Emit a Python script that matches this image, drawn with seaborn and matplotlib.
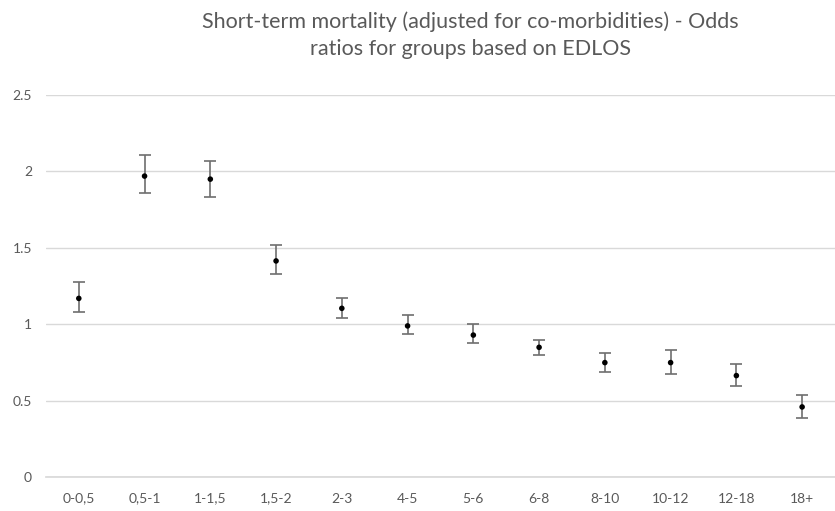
import numpy as np
import pandas as pd
import matplotlib
matplotlib.use('Agg')
import matplotlib.pyplot as plt
import seaborn as sns

# EDLOS groups and odds ratios with CI bounds
groups = ['0-0,5', '0,5-1', '1-1,5', '1,5-2', '2-3', '4-5', '5-6', '6-8',
          '8-10', '10-12', '12-18', '18+']
odds = [1.17, 1.97, 1.95, 1.415, 1.105, 0.99, 0.93, 0.85, 0.75, 0.75, 0.665, 0.46]
ci_low = [1.08, 1.86, 1.83, 1.33, 1.045, 0.94, 0.88, 0.80, 0.69, 0.675, 0.595, 0.39]
ci_high = [1.275, 2.105, 2.07, 1.52, 1.17, 1.06, 1.00, 0.90, 0.81, 0.835, 0.74, 0.54]

df = pd.DataFrame({'group': groups, 'odds': odds, 'low': ci_low, 'high': ci_high})

sns.set_theme(style='white')
plt.rcParams['font.family'] = ['Lato', 'DejaVu Sans']

fig = plt.figure(figsize=(8.35, 5.11), dpi=100)
ax = fig.add_axes([0.055, 0.066, 0.945, 0.748])

#error bars first, points on top
yerr = np.array([df['odds'] - df['low'], df['high'] - df['odds']])
ax.errorbar(np.arange(len(groups)), df['odds'], yerr=yerr, fmt='none',
            ecolor='#6e6e6e', elinewidth=1.2, capsize=4, capthick=1.2, zorder=2)
sns.scatterplot(data=df, x='group', y='odds', color='black', s=16,
                edgecolor='none', ax=ax, zorder=3)

ax.set_xlim(-0.5, len(groups) - 0.5)
ax.set_ylim(0, 2.5)
ax.set_yticks([0, 0.5, 1, 1.5, 2, 2.5])
ax.set_yticklabels(['0', '0.5', '1', '1.5', '2', '2.5'])
ax.yaxis.grid(True, color='#d9d9d9', linewidth=1)
ax.set_axisbelow(True)
for s in ax.spines.values():
    s.set_visible(False)
ax.spines['bottom'].set_visible(True)
ax.spines['bottom'].set_color('#d9d9d9')
ax.tick_params(axis='both', colors='#595959', labelsize=10, length=0)
ax.tick_params(axis='x', pad=11)
ax.tick_params(axis='y', pad=10)
ax.set_xlabel('')
ax.set_ylabel('')

fig.suptitle('Short-term mortality (adjusted for co-morbidities) - Odds\nratios for groups based on EDLOS',
             fontsize=15.5, color='#595959', y=0.978, x=0.563, linespacing=1.45)

fig.savefig('out.png', dpi=100)
